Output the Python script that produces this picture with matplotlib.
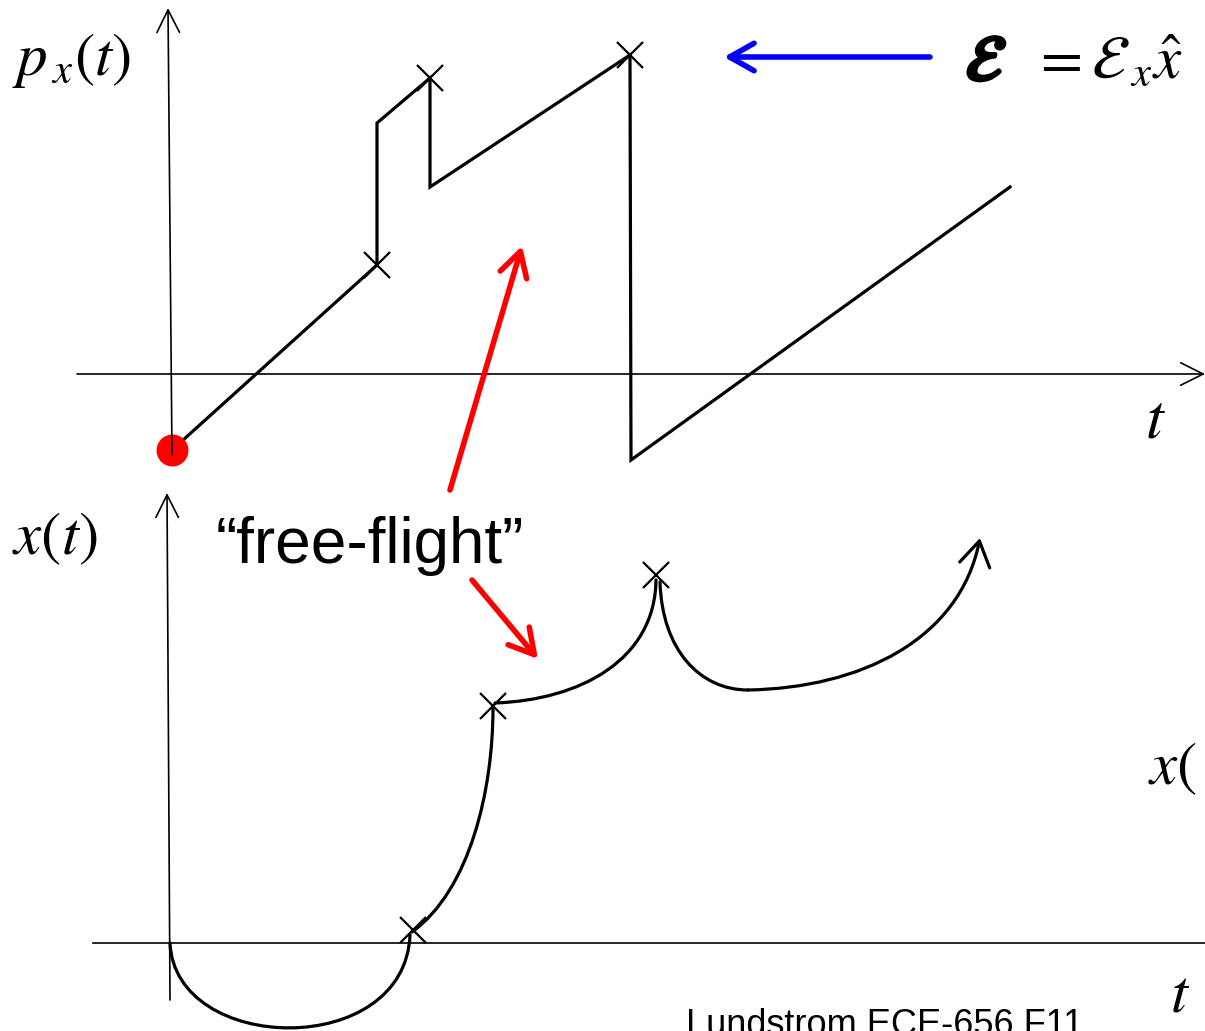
import matplotlib
matplotlib.use("Agg")
import matplotlib.pyplot as plt
import matplotlib.patheffects as pe
from matplotlib.path import Path
from matplotlib.patches import FancyArrowPatch

plt.rcParams['mathtext.fontset'] = 'stix'

# canvas is laid out in pixel units of the original slide (y grows downward)
W, H = 1205, 1031

# top panel: momentum p_x(t) as a polyline
p_t = [172, 377, 377, 430, 430, 630, 631, 1010]
p_val = [450, 265, 123, 78, 187, 55, 460, 187]
# scattering events (crosses) on p_x(t)
p_scat_t = [377, 430, 630]
p_scat_val = [265, 78, 55]

# bottom panel: position x(t) as cubic bezier pieces (start, ctrl1, ctrl2, end)
x_segs = [
    [(170, 943), (175, 1055), (405, 1060), (410, 935)],
    [(412, 932), (470, 890), (493, 790), (493, 708)],
    [(495, 703), (580, 700), (655, 660), (656, 580)],
    [(660, 582), (662, 650), (700, 690), (748, 690)],
]
x_last = [(748, 690), (860, 688), (960, 640), (980, 538)]
x_scat_t = [413, 493, 656]
x_scat_val = [930, 706, 575]

fig = plt.figure(figsize=(W / 100, H / 100), dpi=100)
ax = fig.add_axes([0, 0, 1, 1])
ax.set_xlim(0, W)
ax.set_ylim(H, 0)
ax.axis('off')

axis_arrow = dict(arrowstyle='->,head_length=0.9,head_width=0.45', lw=1.2, color='black',
                  mutation_scale=18, shrinkA=0, shrinkB=0)

# top axes
ax.annotate('', xy=(1205, 374), xytext=(77, 374), arrowprops=axis_arrow)
ax.annotate('', xy=(168, 8), xytext=(172, 455), arrowprops=axis_arrow)
# bottom axes
ax.plot([93, 1205], [943, 943], color='black', lw=1.2)
ax.annotate('', xy=(167, 493), xytext=(170, 1000), arrowprops=axis_arrow)

# p_x(t)
ax.plot(p_t, p_val, color='black', lw=2.3, solid_joinstyle='miter')
ax.plot(p_scat_t, p_scat_val, 'x', color='black', ms=19, mew=1.6)
ax.plot([172], [450], 'o', color='red', ms=22)

# x(t)
codes = [Path.MOVETO, Path.CURVE4, Path.CURVE4, Path.CURVE4]
for seg in x_segs:
    ax.add_patch(FancyArrowPatch(path=Path(seg, codes), arrowstyle='-', lw=2.3,
                                 color='black'))
ax.add_patch(FancyArrowPatch(path=Path(x_last, codes),
                             arrowstyle='->,head_length=0.8,head_width=0.5', lw=2.3,
                             color='black', mutation_scale=22, shrinkA=0, shrinkB=0))
ax.plot(x_scat_t, x_scat_val, 'x', color='black', ms=19, mew=1.6)

# annotation arrows
red = dict(arrowstyle='->,head_length=0.8,head_width=0.45', lw=4, color='red',
           mutation_scale=22, shrinkA=0, shrinkB=0, capstyle='round')
ax.annotate('', xy=(522, 246), xytext=(450, 490), arrowprops=red)
ax.annotate('', xy=(538, 659), xytext=(472, 580), arrowprops=red)
blue = dict(arrowstyle='->,head_length=0.8,head_width=0.45', lw=4, color='blue',
            mutation_scale=22, shrinkA=0, shrinkB=0)
ax.annotate('', xy=(724, 57), xytext=(930, 57), arrowprops=blue)

# labels
ax.text(12, 60, r'$p_{\,x}(t)$', fontsize=44, va='center', ha='left')
ax.text(12, 538, r'$x(t)$', fontsize=44, va='center', ha='left')
ax.text(1155, 420, r'$t$', fontsize=46, va='center', ha='center')
ax.text(1180, 995, r'$t$', fontsize=44, va='center', ha='center')
ax.text(1148, 768, r'$x($', fontsize=44, va='center', ha='left')
ax.text(966, 62, r'$\mathcal{E}$', fontsize=46, va='center', ha='left',
        path_effects=[pe.withStroke(linewidth=3, foreground='black')])
ax.text(1032, 62, r'$=\mathcal{E}_{\,x}\hat{x}$', fontsize=44, va='center', ha='left')
ax.text(370, 546, '\u201cfree-flight\u201d', fontsize=46, family='Liberation Sans',
        va='center', ha='center')
ax.text(686, 1008, 'Lundstrom ECE-656 F11', fontsize=26, family='Liberation Sans',
        va='top', ha='left')

fig.savefig('out.png', dpi=100)
